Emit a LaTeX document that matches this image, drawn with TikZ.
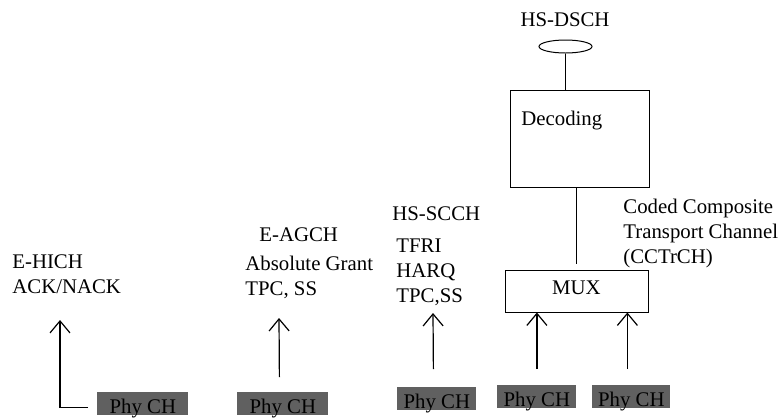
\documentclass[tikz,border=0pt]{standalone}
\usepackage{fontspec}
\setmainfont{Liberation Serif}
\usetikzlibrary{arrows.meta,shapes.geometric}
\definecolor{phygray}{HTML}{606060}
\tikzset{
  txt/.style={anchor=base west, inner sep=0pt, align=left, font=\fontsize{10.4}{12.5}\selectfont},
  box/.style={draw, line width=0.5pt, inner sep=0pt, font=\fontsize{10.4}{12.5}\selectfont},
  phy/.style={fill=phygray, anchor=north west, inner xsep=0pt, inner ysep=0.75pt, text height=10pt, text depth=0pt, font=\fontsize{10.4}{12.5}\selectfont},
  arr/.style={-{Straight Barb[length=6pt,width=10pt]}, line width=0.6pt},
}

\begin{document}
\begin{tikzpicture}[x=0.5pt,y=-0.5pt]
\useasboundingbox (0,0) rectangle (782,419);
\foreach \n/\x/\y/\w in {phyE/97/392/45.5, phyA/237/392/45.5, phyS/397/387/39.5, phyM/497/385/39.5, phyN/592/385/39}
\node[phy, minimum width=\w pt] (\n) at (\x,\y) {Phy CH};
\node[txt] (hich) at (12,293) {E-HICH\\ACK/NACK};
\node[txt] (agch) at (259,241) {E-AGCH};
\node[txt] (grant) at (245,295) {Absolute Grant\\TPC, SS};
\node[txt] (scch) at (392,220) {HS-SCCH};
\node[txt] (tfri) at (396,302) {TFRI\\HARQ\\TPC,SS};
\node[txt] (cctrch) at (623,263) {Coded Composite\\Transport Channel\\(CCTrCH)};
\node[txt, anchor=base] (dsch) at (565,26) {HS-DSCH};
\node[draw, ellipse, line width=0.5pt, minimum width=26.5pt, minimum height=6.5pt, inner sep=0pt] (ell) at (565.5,46.5) {};
\node[box, minimum width=69.5pt, minimum height=48.5pt] (dec) at (579.5,138.5) {};
\node[txt] (dectxt) at (521,125) {Decoding};
\node[box, minimum width=71.5pt, minimum height=21pt, text depth=3.8pt] (mux) at (576.5,291) {MUX};
\coordinate (hichtip) at (60,320);
\coordinate (agchtip) at (279,318);
\coordinate (scchtip) at (433,313);
\draw[line width=0.5pt] (ell.south) -- (ell.south |- dec.north);
\draw[line width=0.5pt] (mux.north |- dec.south) -- ([yshift=3pt]mux.north);
\draw[arr] ([yshift=8pt]phyM.north) -- (phyM.north |- mux.south);
\draw[arr] ([xshift=-2pt,yshift=8pt]phyN.north) -- ([xshift=-2pt]phyN.north |- mux.south);
\draw[arr] ([xshift=-1.75pt,yshift=9pt]phyS.north) -- (scchtip);
\draw[arr] ([xshift=-1.75pt,yshift=7.5pt]phyA.north) -- (agchtip);
\draw[arr] ([xshift=-4.5pt,yshift=-1.75pt]phyE.west) -| (hichtip);
\end{tikzpicture}
\end{document}
